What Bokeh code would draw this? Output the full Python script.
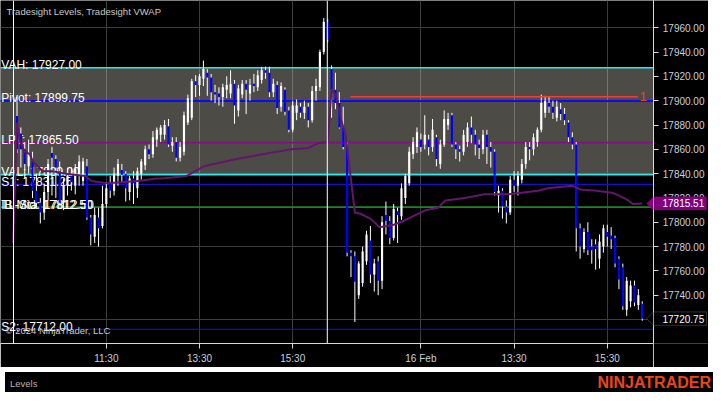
from bokeh.plotting import figure
from bokeh.layouts import row, column
from bokeh.models import (ColumnDataSource, FixedTicker, NumeralTickFormatter, Span, Label,
                          PolyAnnotation, Div, Range1d)
from bokeh.core.properties import value
from bokeh.embed import file_html
from bokeh.resources import INLINE

# ---------------- data (5-minute bars, two sessions) ----------------
opens = [17887.5, 17873, 17860, 17846, 17850, 17826, 17816, 17808, 17825, 17857,
         17852, 17842, 17816, 17830, 17838, 17830, 17840, 17834, 17846, 17804,
         17788, 17804, 17797, 17815, 17832, 17826, 17838, 17843, 17840, 17825,
         17836, 17828, 17840, 17847, 17860, 17856, 17868, 17872, 17872, 17879,
         17863, 17866, 17853, 17858, 17882, 17886, 17916, 17913, 17918, 17923,
         17919, 17907, 17906, 17903, 17909, 17906, 17914, 17892, 17905, 17914,
         17906, 17914, 17911, 17917, 17925, 17923, 17907, 17913, 17895, 17909,
         17892, 17876, 17890, 17895, 17890, 17895, 17884, 17908, 17911, 17940,
         17965,
         17926, 17909, 17898, 17878, 17862, 17775, 17772, 17740, 17750, 17768,
         17785, 17757, 17768, 17752, 17806, 17801, 17787, 17809, 17805, 17820,
         17832, 17856, 17862, 17868, 17864, 17868, 17862, 17870, 17848, 17864,
         17880, 17888, 17864, 17860, 17858, 17866, 17878, 17872, 17864, 17860,
         17872, 17862, 17858, 17822, 17826, 17813, 17808, 17835, 17830, 17835,
         17848, 17862, 17860, 17866, 17876, 17890, 17898, 17895, 17886, 17893,
         17889, 17882, 17870, 17864, 17795, 17778, 17792, 17780, 17782, 17770,
         17780, 17792, 17789, 17787, 17770, 17763, 17728, 17735, 17748, 17732,
         17733]
highs = [17903, 17878, 17866, 17868, 17858, 17840, 17820, 17831, 17852, 17862,
         17855, 17850, 17836, 17845, 17845, 17848, 17855, 17853, 17852, 17806,
         17812, 17812, 17830, 17833, 17838, 17845, 17852, 17848, 17842, 17838,
         17842, 17845, 17852, 17863, 17864, 17875, 17878, 17880, 17884, 17885,
         17870, 17870, 17866, 17891, 17905, 17918, 17921, 17922, 17933, 17926,
         17922, 17913, 17911, 17914, 17920, 17925, 17917, 17913, 17917, 17917,
         17918, 17922, 17925, 17928, 17928, 17928, 17918, 17916, 17915, 17911,
         17895, 17900, 17901, 17898, 17900, 17898, 17912, 17918, 17942, 17968,
         17967,
         17929, 17923, 17907, 17895, 17866, 17777, 17776, 17768, 17780, 17793,
         17797, 17770, 17772, 17805, 17817, 17805, 17815, 17812, 17832, 17840,
         17862, 17870, 17878, 17873, 17888, 17872, 17885, 17872, 17868, 17892,
         17890, 17890, 17866, 17863, 17876, 17882, 17887, 17876, 17868, 17876,
         17876, 17866, 17860, 17830, 17828, 17818, 17838, 17842, 17842, 17852,
         17866, 17866, 17873, 17878, 17905, 17904, 17903, 17900, 17900, 17898,
         17894, 17884, 17874, 17866, 17799, 17795, 17800, 17786, 17786, 17790,
         17798, 17798, 17796, 17789, 17772, 17766, 17755, 17752, 17752, 17745,
         17735]
lows = [17857, 17845, 17836, 17840, 17820, 17812, 17799, 17802, 17818, 17822,
        17820, 17814, 17810, 17822, 17826, 17823, 17830, 17830, 17802, 17781,
        17783, 17780, 17795, 17812, 17820, 17822, 17830, 17833, 17817, 17818,
        17815, 17820, 17835, 17843, 17852, 17853, 17862, 17866, 17868, 17862,
        17858, 17850, 17850, 17855, 17880, 17884, 17903, 17904, 17912, 17904,
        17900, 17898, 17896, 17895, 17902, 17902, 17881, 17887, 17902, 17889,
        17900, 17907, 17908, 17914, 17918, 17903, 17903, 17889, 17891, 17888,
        17874, 17874, 17884, 17886, 17885, 17878, 17882, 17900, 17908, 17938,
        17948,
        17886, 17893, 17877, 17860, 17772, 17755, 17718, 17737, 17747, 17765,
        17750, 17743, 17740, 17745, 17790, 17782, 17785, 17783, 17802, 17815,
        17830, 17852, 17857, 17858, 17860, 17855, 17858, 17846, 17844, 17862,
        17876, 17862, 17852, 17850, 17855, 17862, 17865, 17855, 17852, 17856,
        17848, 17845, 17822, 17808, 17803, 17799, 17806, 17825, 17822, 17832,
        17844, 17851, 17855, 17862, 17874, 17886, 17890, 17885, 17883, 17884,
        17880, 17866, 17860, 17776, 17770, 17775, 17773, 17766, 17761, 17762,
        17775, 17780, 17778, 17763, 17745, 17728, 17723, 17730, 17731, 17728,
        17719]
closes = [17860, 17860, 17848, 17856, 17826, 17816, 17808, 17825, 17848, 17853,
          17845, 17816, 17830, 17838, 17833, 17844, 17850, 17850, 17804, 17790,
          17806, 17795, 17815, 17828, 17826, 17840, 17848, 17839, 17828, 17836,
          17832, 17842, 17850, 17860, 17856, 17870, 17876, 17878, 17880, 17864,
          17866, 17853, 17862, 17888, 17902, 17916, 17913, 17920, 17926, 17919,
          17907, 17905, 17903, 17911, 17913, 17914, 17896, 17910, 17914, 17909,
          17913, 17912, 17921, 17925, 17923, 17907, 17914, 17894, 17912, 17891,
          17876, 17896, 17896, 17890, 17895, 17884, 17908, 17912, 17940, 17965,
          17950,
          17909, 17898, 17878, 17862, 17775, 17772, 17751, 17766, 17776, 17790,
          17757, 17766, 17752, 17800, 17801, 17787, 17811, 17806, 17828, 17838,
          17858, 17866, 17874, 17862, 17872, 17862, 17876, 17852, 17864, 17885,
          17885, 17864, 17860, 17858, 17872, 17878, 17872, 17864, 17861, 17872,
          17862, 17858, 17825, 17826, 17813, 17808, 17835, 17830, 17838, 17848,
          17862, 17860, 17870, 17876, 17898, 17900, 17895, 17890, 17895, 17889,
          17884, 17870, 17864, 17795, 17780, 17792, 17777, 17777, 17778, 17784,
          17795, 17788, 17786, 17766, 17753, 17731, 17752, 17748, 17734, 17740,
          17720.75]

# VWAP plot vertices (bar index, price)
vwap_bar = [-1, 0, 0.8, 2, 3.3, 4.1, 6.6, 9.2, 12.5, 17.6, 19.2, 23.4, 31, 36,
            37.3, 43.6, 48.1, 56.6, 65, 70.8, 75, 77.5, 80,
            81, 82, 82.6, 83.4, 84.6, 85.6, 87, 88.4, 91, 93.4, 97, 99.5, 102,
            105.3, 108.5, 110.3, 115.3, 120.4, 126.7, 134.2, 136.7, 143, 145,
            149.3, 153.6, 156.9, 158.6, 161]
vwap_val = [17783, 17882, 17866, 17858, 17856, 17850, 17842, 17842, 17840, 17838,
            17834, 17832, 17834, 17836, 17836, 17838, 17846, 17852, 17857, 17860,
            17861, 17865, 17866,
            17909, 17905, 17898, 17885, 17872, 17846, 17808, 17807, 17803, 17796,
            17798, 17801, 17805, 17810, 17812, 17818, 17820, 17823, 17823, 17826,
            17828, 17830, 17827, 17826, 17824, 17819, 17815, 17815.51]

# Tradesight levels
level_names = ["VAH", "Pivot", "LPT", "VAL", "S1", "IB-Mid", "TL-Sta", "S2"]
level_values = [17927.00, 17899.75, 17865.50, 17839.00, 17831.25, 17812.50, 17812.50, 17712.00]
level_colors = ["#2ee8e8", "#0a0aff", "#8a0a8a", "#2ee8e8", "#1414c0", "#1c8c1c", "#1c8c1c", "#1414d0"]
level_widths = [1.5, 1.8, 1.6, 1.5, 1.2, 1.2, 1.2, 1.2]

ray_price = 17903.25
ray_from, ray_to = 85.9, 159.9

session_breaks = [-0.9, 79.9]

tick_bars = [23, 47, 71, 104, 128, 152]
tick_labels = ["11:30", "13:30", "15:30", "16 Feb", "13:30", "15:30"]
price_ticks = [17720, 17740, 17760, 17780, 17800, 17820, 17840, 17860, 17880, 17900, 17920, 17940, 17960]
grid_prices = [17720, 17780, 17840, 17900, 17960]

vwap_last = 17815.51
last_close = 17720.75

# ---------------- layout constants ----------------
x_start, x_end = -4.25, 163.9
y_start, y_end = 17700.3, 17982.4
FW, FH = 653, 343          # plot frame
AXW = 55                   # price-axis strip
BOT = 24                   # time-axis strip
FOOT = 20                  # footer strip
FONT = "Liberation Sans"
TAG_HALF = 5.5             # half tag height in price units

yr = Range1d(y_start, y_end)

fig = figure(width=FW, height=FH + BOT, x_range=(x_start, x_end), y_range=yr,
             y_axis_location=None, toolbar_location=None, output_backend="svg",
             min_border_left=0, min_border_top=0, min_border_right=0, min_border_bottom=BOT,
             background_fill_color="black", border_fill_color="black", outline_line_color=None)

fig.xgrid.ticker = FixedTicker(ticks=tick_bars)
fig.ygrid.ticker = FixedTicker(ticks=grid_prices)
fig.grid.grid_line_color = "#3c3c3c"

xa = fig.xaxis[0]
xa.ticker = FixedTicker(ticks=tick_bars)
xa.major_label_overrides = {b: t for b, t in zip(tick_bars, tick_labels)}
xa.axis_line_color = "#d8d8d8"
xa.major_tick_line_color = "#d8d8d8"
xa.minor_tick_line_color = None
xa.major_tick_in = 0
xa.major_tick_out = 5
xa.major_label_standoff = 4
xa.major_label_text_color = "#c8d0dc"
xa.major_label_text_font = FONT
xa.major_label_text_font_size = "10px"

# value area shading
vah = level_values[0]
val = level_values[3]
fig.quad(left=[x_start], right=[x_end], bottom=[val], top=[vah],
         fill_color="#e9e5d4", fill_alpha=0.33, line_color=None)

# level lines
for v, c, w in zip(level_values, level_colors, level_widths):
    fig.segment(x0=[x_start], x1=[x_end], y0=[v], y1=[v], line_color=c, line_width=w)

# level labels
lbl_text = [f"{n}: {v:.2f}" for n, v in zip(level_names, level_values)]
fig.text(x=[x_start + 0.2] * len(level_values), y=level_values, text=lbl_text,
         text_color="white", text_font=value(FONT), text_font_size="12px",
         text_baseline="alphabetic", y_offset=-2.5)

# candles
body_top = [max(o, c) for o, c in zip(opens, closes)]
body_bot = [min(o, c) for o, c in zip(opens, closes)]
body_col = ["#ffffff" if c >= o else "#0000ff" for o, c in zip(opens, closes)]
src = ColumnDataSource(dict(x=list(range(len(closes))), h=highs, l=lows,
                            top=body_top, bot=body_bot, col=body_col))
fig.segment(x0="x", x1="x", y0="l", y1="h", source=src, line_color="white", line_width=1)
fig.vbar(x="x", width=0.55, top="top", bottom="bot", source=src,
         fill_color="col", line_color=None)

# VWAP
fig.line(vwap_bar, vwap_val, line_color="#62186a", line_width=2)

# drawn horizontal ray with its label
fig.segment(x0=[ray_from], x1=[ray_to], y0=[ray_price], y1=[ray_price],
            line_color="#f04030", line_width=1.5)
fig.text(x=[ray_to + 1.3], y=[ray_price], text=["1"], text_color="#f04030",
         text_font=value(FONT), text_font_size="13px", text_align="center", text_baseline="middle")

# session breaks
for sb in session_breaks:
    fig.add_layout(Span(location=sb, dimension="height", line_color="white", line_width=1))

# texts inside the frame
fig.add_layout(Label(x=6, y=FH - 11, x_units="screen", y_units="screen",
                     text="Tradesight Levels, Tradesight VWAP", text_color="#c8c8c8",
                     text_font=FONT, text_font_size="9.5px", text_baseline="middle"))
fig.add_layout(Label(x=5, y=13, x_units="screen", y_units="screen",
                     text="\u00a9 2024 NinjaTrader, LLC", text_color="#c8c8c8",
                     text_font=FONT, text_font_size="9.5px", text_baseline="middle"))

# ---------------- price axis strip ----------------
axf = figure(width=AXW, height=FH + BOT, x_range=(0, AXW), y_range=yr,
             x_axis_location=None, y_axis_location="left", toolbar_location=None,
             output_backend="svg", min_border_left=0, min_border_top=0, min_border_right=0,
             min_border_bottom=BOT, background_fill_color="black", border_fill_color="black",
             outline_line_color=None)
axf.grid.visible = False
ya = axf.yaxis[0]
ya.ticker = FixedTicker(ticks=price_ticks)
ya.formatter = NumeralTickFormatter(format="0.00")
ya.axis_line_color = "#d8d8d8"
ya.major_tick_line_color = "#d8d8d8"
ya.minor_tick_line_color = None
ya.major_tick_in = 5
ya.major_tick_out = 0
ya.major_label_standoff = -51
ya.major_label_text_color = "#c8d0dc"
ya.major_label_text_font = FONT
ya.major_label_text_font_size = "10px"

def tag(price, fill, border, txt):
    # arrow tip inside the plot frame
    fig.add_layout(PolyAnnotation(xs=[FW - 7, FW, FW], ys=[price, price + TAG_HALF, price - TAG_HALF],
                                  xs_units="screen", ys_units="data",
                                  fill_color=fill, fill_alpha=1.0, line_color=border, line_width=1))
    # body over the price axis
    axf.add_layout(PolyAnnotation(xs=[0, AXW - 2, AXW - 2, 0],
                                  ys=[price + TAG_HALF, price + TAG_HALF, price - TAG_HALF, price - TAG_HALF],
                                  xs_units="data", ys_units="data",
                                  fill_color=fill, fill_alpha=1.0, line_color=border, line_width=1))
    axf.add_layout(Label(x=9, y=price, x_units="data", y_units="data", text=txt,
                         text_color="white", text_font=FONT, text_font_size="10px",
                         text_baseline="middle"))

tag(vwap_last, "#800080", "#800080", f"{vwap_last:.2f}")
tag(last_close, "#000000", "#a0a0a0", f"{last_close:.2f}")

# ---------------- footer ----------------
footer = Div(text=(
    '<div style="position:relative;width:708px;height:20px;background:#000;'
    'font-family:\'Liberation Sans\',Arial,sans-serif;">'
    '<span style="position:absolute;left:5px;top:5px;font-size:9.5px;color:#b4b4b4;">Levels</span>'
    '<span style="position:absolute;right:2px;top:0px;font-size:16px;font-weight:bold;'
    'color:#e8471c;">NINJATRADER</span></div>'), width=FW + AXW, height=FOOT)

p = column(row(fig, axf), footer)

open("out.html", "w").write(file_html(p, INLINE))
